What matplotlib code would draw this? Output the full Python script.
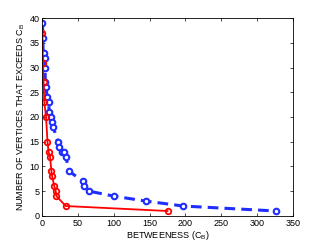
import matplotlib
matplotlib.use("Agg")
import matplotlib.pyplot as plt

# red series: solid line
red_x = [0.5, 1, 2, 3, 5.5, 7.5, 9, 11, 13, 14, 17, 19, 20, 33, 175]
red_y = [37, 31, 27, 23, 20, 15, 13, 12, 9, 8, 6, 5, 4, 2, 1]

# blue series: dashed line
blue_x = [0.5, 1, 1.5, 2, 3.5, 4, 4.5, 5.5, 7, 9, 10, 12, 13.5, 15.5, 22, 24, 27.5, 30, 33,
          38, 57, 59, 66, 100, 145, 197, 326]
blue_y = [39, 36, 33, 33, 32, 30, 27, 26, 24, 23, 21, 20, 19, 18, 15, 14, 13, 13, 12,
          9, 7, 6, 5, 4, 3, 2, 1]

plt.rcParams["font.family"] = ["Liberation Sans", "DejaVu Sans"]
plt.rcParams["mathtext.fontset"] = "custom"
plt.rcParams["mathtext.rm"] = "Liberation Sans"
plt.rcParams["mathtext.it"] = "Liberation Sans"
fig = plt.figure(figsize=(3.24, 2.44), dpi=100)
ax = fig.add_axes([0.13, 0.115, 0.774, 0.811])

ax.plot(blue_x, blue_y, color="#1f2eff", linestyle=(0, (3.5, 2)), linewidth=2.2,
        marker="o", markersize=4, markerfacecolor="white", markeredgewidth=1.5)
ax.plot(red_x, red_y, color="#ff0000", linestyle="-", linewidth=1.3,
        marker="o", markersize=4, markerfacecolor="none", markeredgewidth=1.3)

ax.set_xlim(0, 350)
ax.set_ylim(0, 40)
ax.set_xticks(range(0, 351, 50))
ax.set_yticks(range(0, 41, 5))
ax.tick_params(direction="in", top=True, right=True, labelsize=6.5, length=2.5, width=0.5, pad=2)
for s in ax.spines.values():
    s.set_linewidth(0.6)
ax.set_xlabel("BETWEENESS (C$_\\mathrm{B}$)", fontsize=6.5, labelpad=1)
ax.set_ylabel("NUMBER OF VERTICES THAT EXCEEDS C$_\\mathrm{B}$", fontsize=6.5, labelpad=2)

fig.savefig("out.png", dpi=100)
